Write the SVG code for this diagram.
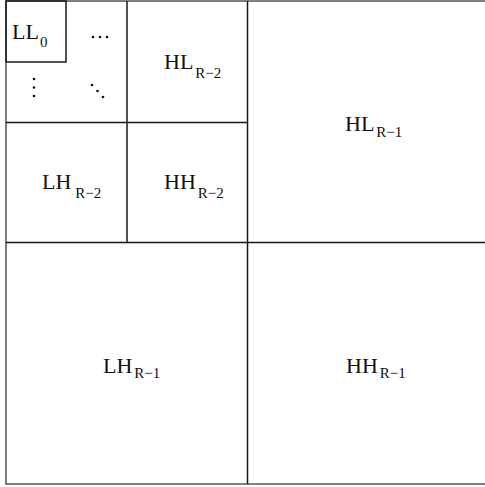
<svg xmlns="http://www.w3.org/2000/svg" width="485" height="487" viewBox="0 0 485 487">
<style>
.ln{stroke:#1a1a1a;stroke-width:1.5;fill:none}
.ob{stroke:#555;stroke-width:1.5;fill:none}
.t{font-family:"Liberation Serif","Times New Roman",serif;font-size:22px;fill:#111}
.s{font-size:15px}
.d{fill:#111}
</style>
<rect width="485" height="487" fill="#fff"/>
<g id="connectors">
<rect class="ob" x="6" y="1" width="484" height="483"/>
<line class="ln" x1="247.5" y1="1" x2="247.5" y2="484"/>
<line class="ln" x1="6" y1="242.5" x2="490" y2="242.5"/>
<line class="ln" x1="127" y1="122.5" x2="127" y2="242.5"/>
<line class="ln" x1="6" y1="122.5" x2="247.5" y2="122.5"/>
<line class="ln" x1="127" y1="1" x2="127" y2="122.5"/>
</g>
<g id="LL0">
<rect class="ln" x="6" y="1" width="60" height="61"/>
<text class="t" x="12" y="39">LL<tspan class="s" dx="1" dy="8">0</tspan></text>
</g>
<g id="dots">
<circle class="d" cx="93" cy="37" r="1.3"/><circle class="d" cx="100" cy="37" r="1.3"/><circle class="d" cx="107" cy="37" r="1.3"/>
<circle class="d" cx="34" cy="79" r="1.3"/><circle class="d" cx="34" cy="87.5" r="1.3"/><circle class="d" cx="34" cy="96" r="1.3"/>
<circle class="d" cx="92" cy="85" r="1.3"/><circle class="d" cx="97.5" cy="91" r="1.3"/><circle class="d" cx="103" cy="97" r="1.3"/>
</g>
<g id="HL_R2"><text class="t" x="164" y="69">HL<tspan class="s" dx="2" dy="9">R−2</tspan></text></g>
<g id="LH_R2"><text class="t" x="42" y="189">LH<tspan class="s" dx="4" dy="9">R−2</tspan></text></g>
<g id="HH_R2"><text class="t" x="164" y="189">HH<tspan class="s" dx="2" dy="9">R−2</tspan></text></g>
<g id="HL_R1"><text class="t" x="345" y="131">HL<tspan class="s" dx="2" dy="6">R−1</tspan></text></g>
<g id="LH_R1"><text class="t" x="103" y="373">LH<tspan class="s" dx="2" dy="5">R−1</tspan></text></g>
<g id="HH_R1"><text class="t" x="346" y="373">HH<tspan class="s" dx="2" dy="5">R−1</tspan></text></g>
</svg>
